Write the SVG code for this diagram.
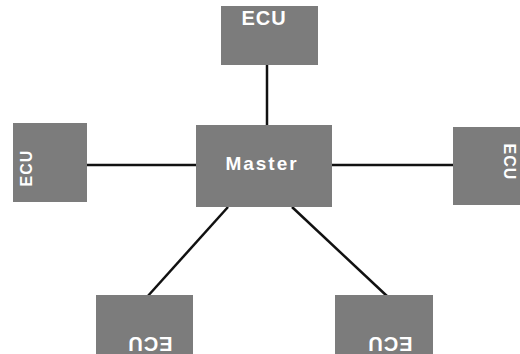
<svg xmlns="http://www.w3.org/2000/svg" width="520" height="354" viewBox="0 0 520 354">
<style>
.box{fill:#7c7c7c;}
.t{fill:#ffffff;font-family:"Liberation Sans",Arial,sans-serif;font-weight:bold;text-anchor:middle;dominant-baseline:central;}
.e{font-size:20px;letter-spacing:1px;}
.s{font-size:16px;letter-spacing:1px;}
.m{font-size:19px;letter-spacing:2px;}
.c{stroke:#111111;stroke-width:2.5;fill:none;}
</style>
<rect width="520" height="354" fill="#ffffff"/>
<g id="connectors">
<line class="c" x1="267" y1="65" x2="267" y2="125"/>
<line class="c" x1="87" y1="165" x2="196" y2="165"/>
<line class="c" x1="332" y1="165" x2="453" y2="165"/>
<line class="c" x1="228" y1="207" x2="147" y2="297"/>
<line class="c" x1="292" y1="207" x2="388" y2="297"/>
</g>
<g id="master">
<rect class="box" x="196" y="125" width="136" height="82"/>
<text class="t m" x="262" y="163">Master</text>
</g>
<g id="ecu-top">
<rect class="box" x="221" y="6" width="97" height="59"/>
<text class="t e" x="264" y="18">ECU</text>
</g>
<g id="ecu-left">
<rect class="box" x="13" y="123" width="74" height="79"/>
<text class="t s" transform="translate(26,168) rotate(-90)" x="0" y="0">ECU</text>
</g>
<g id="ecu-right">
<rect class="box" x="453" y="127" width="70" height="78"/>
<text class="t s" transform="translate(509,162) rotate(90)" x="0" y="0">ECU</text>
</g>
<g id="ecu-bottom-left">
<rect class="box" x="96" y="295" width="97" height="59"/>
<text class="t e" transform="translate(150,344) rotate(180)" x="0" y="0">ECU</text>
</g>
<g id="ecu-bottom-right">
<rect class="box" x="335" y="295" width="98" height="59"/>
<text class="t e" transform="translate(390,344) rotate(180)" x="0" y="0">ECU</text>
</g>
</svg>
